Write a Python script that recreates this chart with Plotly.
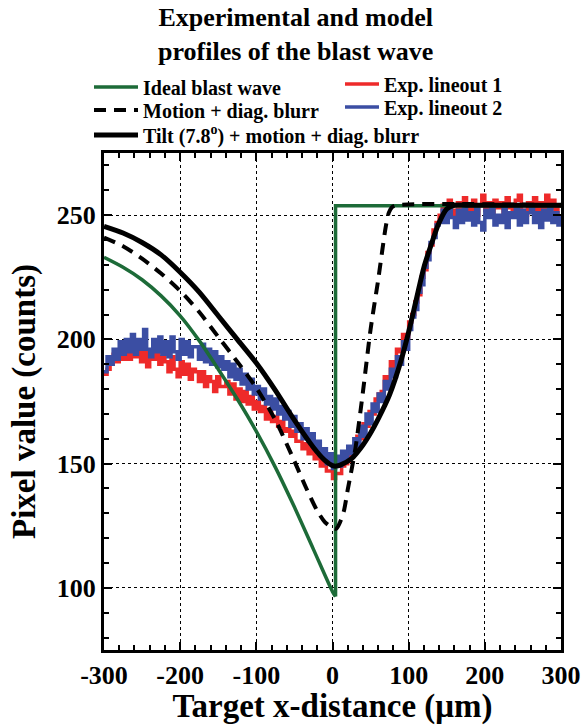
import plotly.graph_objects as go

# ---------------- data ----------------
EXP_X = list(range(-300, 301, 4))

EXP1_RED = [
    186, 188, 190, 194, 191, 195, 192, 197, 192, 196,
    193, 197, 191, 195, 189, 194, 192, 197, 190, 193,
    191, 187, 193, 188, 185, 191, 186, 190, 184, 188,
    187, 183, 187, 181, 185, 183, 179, 185, 181, 181,
    183, 178, 182, 176, 180, 175, 179, 174, 177, 172,
    175, 171, 173, 168, 171, 167, 169, 165, 167, 163,
    164, 161, 163, 159, 159, 156, 158, 154, 156, 152,
    153, 149, 151, 147, 147, 144, 146, 146, 149, 150,
    151, 155, 156, 161, 160, 166, 165, 171, 170, 176,
    178, 179, 185, 184, 191, 189, 196, 195, 202, 201,
    207, 210, 215, 218, 225, 228, 235, 238, 244, 247,
    250, 254, 251, 256, 252, 250, 255, 251, 257, 253,
    252, 256, 250, 254, 258, 252, 255, 250, 256, 253,
    255, 250, 257, 253, 251, 256, 258, 252, 250, 255,
    253, 257, 251, 255, 250, 258, 253, 256, 251, 254,
    253,
]

EXP2_BLUE = [
    187, 193, 190, 196, 192, 199, 194, 200, 195, 202,
    194, 200, 196, 204, 196, 193, 200, 195, 201, 194,
    199, 193, 201, 195, 192, 200, 194, 199, 193, 197,
    197, 192, 198, 191, 196, 190, 195, 189, 193, 188,
    191, 185, 190, 184, 188, 182, 186, 180, 184, 178,
    181, 176, 180, 174, 177, 172, 176, 170, 173, 168,
    171, 165, 169, 163, 166, 160, 164, 159, 162, 156,
    159, 153, 156, 150, 154, 148, 153, 149, 155, 151,
    157, 154, 160, 157, 165, 161, 170, 166, 174, 171,
    178, 175, 183, 180, 188, 185, 193, 190, 199, 196,
    204, 209, 212, 219, 222, 229, 232, 239, 241, 246,
    247, 252, 247, 253, 249, 245, 252, 247, 254, 248,
    251, 246, 253, 247, 244, 252, 249, 254, 246, 250,
    247, 253, 245, 251, 249, 254, 246, 252, 247, 251,
    253, 247, 251, 245, 252, 248, 254, 247, 251, 246,
    250,
]

IDEAL_X = [-300, -275, -250, -225, -200, -175, -150, -125, -100, -75, -50, -25, 0, 4]
IDEAL_Y = [233, 229, 224, 217.5, 209.5, 199.5, 188, 176, 163, 148.5, 132.5, 115.5, 98.5, 96.5]
IDEAL_JUMP_X = [4, 4, 300]
IDEAL_JUMP_Y = [96.5, 253.8, 253.8]

MOTION_X = [-300, -275, -250, -225, -200, -175, -150, -125, -100, -75, -50, -35, -20, -10, 0, 5,
            10, 15, 20, 30, 40, 50, 60, 65, 70, 74, 78, 85, 300]
MOTION_Y = [241, 237.5, 232.5, 226.5, 219.5, 211, 201, 191, 180.5, 167.5, 151, 140.5, 131, 126.5, 124.2, 123.8,
            126.5, 131, 139.5, 156, 179, 204, 224, 235, 245.5, 251, 253.2, 254, 254]

TILT_X = [-300, -275, -250, -225, -200, -175, -150, -125, -100, -75, -50, -25, -10, 0, 5, 10, 25, 40, 50,
          60, 75, 90, 100, 110, 120, 130, 140, 150, 160, 175, 300]
TILT_Y = [245.5, 242.8, 239, 234, 227, 219, 209.5, 200, 190.5, 179.5, 167.5, 156.5, 151.3, 149.2, 149, 149.4, 152, 157.5, 162.3,
          168, 177.8, 191.5, 203, 216, 229, 238.5, 247, 252.5, 254, 254, 254]

X_TICKS = [-300, -200, -100, 0, 100, 200, 300]
X_TICK_LABELS = ["-300", "-200", "-100", "0", "100", "200", "300"]
Y_TICKS = [100, 150, 200, 250]
Y_TICK_LABELS = ["100", "150", "200", "250"]

TITLE = "Experimental and model<br>profiles of the blast wave"
X_TITLE = "Target x-distance (\u03bcm)"
Y_TITLE = "Pixel value (counts)"


def b(t):
    return "<b>" + t + "</b>"


# ---------------- figure ----------------
SERIF = "Liberation Serif"
RED = "#ee2a2a"
BLUE = "#3b4ea3"
GREEN = "#1d6b38"

fig = go.Figure()

fig.add_trace(go.Scatter(x=EXP_X, y=EXP1_RED, mode="lines", name=b("Exp. lineout 1"),
                         line=dict(color=RED, width=3.5, shape="hv"), legend="legend4"))
fig.add_trace(go.Scatter(x=EXP_X, y=EXP2_BLUE, mode="lines", name=b("Exp. lineout 2"),
                         line=dict(color=BLUE, width=3.5, shape="hv"), legend="legend5"))
fig.add_trace(go.Scatter(x=IDEAL_X, y=IDEAL_Y, mode="lines", name=b("Ideal blast wave"),
                         line=dict(color=GREEN, width=3.5, shape="spline", smoothing=0.8),
                         legend="legend", legendgroup="ideal"))
fig.add_trace(go.Scatter(x=IDEAL_JUMP_X, y=IDEAL_JUMP_Y, mode="lines", name=b("Ideal blast wave"),
                         line=dict(color=GREEN, width=3.5), showlegend=False, legendgroup="ideal"))
fig.add_trace(go.Scatter(x=MOTION_X, y=MOTION_Y, mode="lines", name=b("Motion + diag. blurr"),
                         line=dict(color="black", width=4, dash="12px,8px", shape="spline", smoothing=0.8),
                         legend="legend2"))
fig.add_trace(go.Scatter(x=TILT_X, y=TILT_Y, mode="lines",
                         name=b("Tilt (7.8<sup>o</sup>) + motion + diag. blurr"),
                         line=dict(color="black", width=5, shape="spline", smoothing=0.8),
                         legend="legend3"))

tickfont = dict(family=SERIF, size=26)
titlefont = dict(family=SERIF, size=33)
legfont = dict(family=SERIF, size=20)

axis_common = dict(
    ticks="inside", ticklen=8, tickwidth=2, tickcolor="black",
    showline=True, linewidth=3, linecolor="black", mirror="allticks",
    showgrid=True, gridcolor="black", gridwidth=1, griddash="dot",
    zeroline=False, tickfont=tickfont, tickmode="array",
)

fig.update_xaxes(range=[-300, 300], tickvals=X_TICKS, ticktext=[b(t) for t in X_TICK_LABELS],
                 minor=dict(dtick=20, tick0=0, ticks="inside", ticklen=5, tickwidth=2,
                            tickcolor="black", showgrid=False),
                 title=dict(text=b(X_TITLE), font=titlefont, standoff=20), **axis_common)
fig.update_yaxes(range=[75, 275], tickvals=Y_TICKS, ticktext=[b(t) for t in Y_TICK_LABELS],
                 minor=dict(dtick=10, tick0=0, ticks="inside", ticklen=5, tickwidth=2,
                            tickcolor="black", showgrid=False),
                 title=dict(text=b(Y_TITLE), font=titlefont, standoff=12), **axis_common)


def px_x(p):
    return (p - 104) / 457


def px_y(p):
    return (650 - p) / 497


def leg(xp, yp, w):
    return dict(x=px_x(xp), y=px_y(yp), xanchor="left", yanchor="middle",
                bgcolor="rgba(0,0,0,0)", font=legfont, itemwidth=w, tracegroupgap=0)


fig.update_layout(
    template="none",
    font=dict(family=SERIF, color="black"),
    width=584, height=725,
    margin=dict(l=104, r=23, t=153, b=75),
    paper_bgcolor="white", plot_bgcolor="white",
    legend=leg(89, 87, 44),
    legend2=leg(89, 110, 44),
    legend3=leg(89, 135, 44),
    legend4=leg(340, 84, 34),
    legend5=leg(340, 107, 34),
    showlegend=True,
    annotations=[dict(text=b(TITLE), xref="paper", yref="paper", x=px_x(295), y=px_y(1),
                      xanchor="center", yanchor="top", showarrow=False,
                      font=dict(family=SERIF, size=26))],
)

fig.write_html("out.html")
